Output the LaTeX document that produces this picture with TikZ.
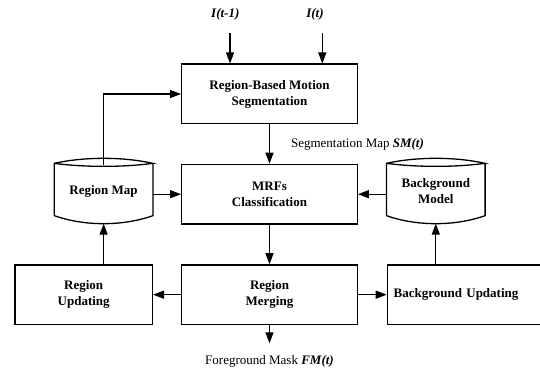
\documentclass[tikz,border=0pt]{standalone}
\usepackage{fontspec}
\setmainfont{Liberation Serif}
\usetikzlibrary{arrows.meta}

\newcommand{\drumline}[1]{%
  \draw ([yshift=-5pt]#1.north west) .. controls +(30,-6.7) and +(-30,-6.7) .. ([yshift=-5pt]#1.north east)
    .. controls +(-30,4) and +(30,4) .. ([yshift=-5pt]#1.north west)
    -- ([yshift=8pt]#1.south west)
    .. controls +(30,10.7) and +(-30,10.7) .. ([yshift=8pt]#1.south east)
    -- ([yshift=-5pt]#1.north east);
}

\begin{document}
\begin{tikzpicture}
		[%%%%%%%%%%%%%%%%%%%%%%%%%%%%%%
		x=1pt,y=-1pt,line width=1.3pt,
		box/.style={rectangle,draw=black,line width=1.3pt,minimum width=175.6pt,minimum height=59.7pt,inner sep=0pt,align=center,font=\fontsize{13}{16}\selectfont\bfseries},
		drum/.style={rectangle,minimum width=97.3pt,minimum height=64pt,inner sep=0pt,align=center,font=\fontsize{13}{16}\selectfont\bfseries},
		lbl/.style={inner sep=0pt,font=\fontsize{13}{16}\selectfont},
		arr/.style={-{Triangle[length=11pt,width=8pt]}},
		]%%%%%%%%%%%%%%%%%%%%%%%%%%%%%%
		\useasboundingbox (0,0) rectangle (540,371);
		\clip (0,0) rectangle (540,371);
		
		\node[box] (rbms) at (269.5,94) {Region-Based Motion\\Segmentation};
		\node[box] (mrf) at (269.5,194.2) {MRFs\\Classification};
		\node[box] (merge) at (269.5,294.7) {Region\\Merging};
		\node[box,minimum width=137.3pt] (rupd) at (83.7,294.7) {Region\\Updating};
		\node[box,anchor=west,minimum width=170pt,text width=157.4pt,inner xsep=6.3pt,align=left] (bupd) at (386.7,294.7) {Background Updating};
		
		\node[drum] (rmap) at (103.6,191) {Region Map};
		\node[drum] (bmod) at (435.8,191) {Background\\Model};
		\drumline{rmap}
		\drumline{bmod}
		
		\node[lbl,font=\fontsize{13}{16}\selectfont\bfseries\itshape] (itm) at (225.3,14) {I(t-1)};
		\node[lbl,font=\fontsize{13}{16}\selectfont\bfseries\itshape] (itc) at (315,14) {I(t)};
		\node[lbl] (segl) at (357.5,144.3) {Segmentation Map \textbf{\textit{SM(t)}}};
		\node[lbl] (fgl) at (269.5,361.7) {Foreground Mask \textbf{\textit{FM(t)}}};
		
		\coordinate (in1) at (230,33.3);
		\coordinate (in2) at (322.3,33.3);
		\coordinate (fgout) at (269.5,343.3);
		
		% inputs
		\draw[arr] (in1) -- (in1 |- rbms.north);
		\draw[arr] (in2) -- (in2 |- rbms.north);
		% main column
		\draw[arr] (rbms) -- (mrf);
		\draw[arr] (mrf) -- (merge);
		\draw[arr] (merge.south) -- (fgout);
		% side loops
		\draw[arr] ([yshift=-7pt]rmap.north) |- (rbms.west);
		\draw[arr] (mrf.west -| rmap.east) -- (mrf.west);
		\draw[arr] (mrf.east -| bmod.west) -- (mrf.east);
		\draw[arr] (merge.west) -- (rupd.east);
		\draw[arr] (merge.east) -- (bupd.west);
		\draw[arr] (rmap.south |- rupd.north) -- (rmap.south);
		\draw[arr] (bmod.south |- bupd.north) -- (bmod.south);
\end{tikzpicture}
\end{document}
